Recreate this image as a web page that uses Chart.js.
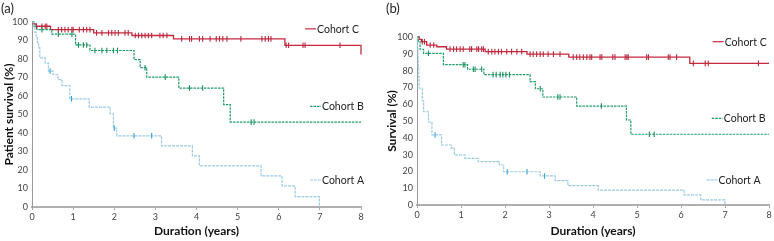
<!DOCTYPE html>
<html><head><meta charset="utf-8">
<script src="https://cdn.jsdelivr.net/npm/chart.js@4/dist/chart.umd.min.js"></script>
<style>
html,body{margin:0;padding:0;background:#fff;}
#wrap{position:relative;width:774px;height:241px;overflow:hidden;}
.box{position:absolute;top:0;height:241px;}
</style></head><body>
<div id="wrap">
<div class="box" style="left:0;width:385px"><canvas id="ca"></canvas></div>
<div class="box" style="left:385px;width:389px"><canvas id="cb"></canvas></div>
</div>
<script>
// ---------- Panel (a): Patient survival ----------
const xTicks = [0,1,2,3,4,5,6,7,8];
const yTicks = [0,10,20,30,40,50,60,70,80,90,100];

const aTimeA = [0,0.04,0.07,0.1,0.13,0.16,0.19,0.32,0.4,0.51,0.63,0.73,0.92,1.39,1.9,1.98,2.06,3.15,3.9,4.07,5.57,6.08,6.4,6.99];
const aSurvA = [100,97.2,94.4,91.7,88.9,86.1,80.6,77.8,73.5,71.5,68.8,65.6,58.5,54,50.4,42.6,38.5,33,27.6,22.2,16.8,11.4,5.6,0];
const aCensA = [0.44,0.96,2.0,2.48,2.91];

const aTimeB = [0,0.05,0.12,0.48,1.06,1.41,2.48,2.63,2.79,3.57,4.66,4.82,8];
const aSurvB = [100,97.5,95.9,93.4,87.6,84.6,79.7,75.3,70.2,64.3,55.3,45.9,45.9];
const aCensB = [0.24,0.64,0.97,1.13,1.25,1.33,1.53,1.70,1.82,1.98,2.08,2.75,3.24,3.83,4.15,5.33,5.40];

const aTimeC = [0,0.03,0.1,0.45,1.5,2.43,3.44,6.15,8];
const aSurvC = [100,99,97.7,95.9,94.1,92.7,90.9,87.4,82.4];
const aCensC = [0.11,0.24,0.32,0.36,0.64,0.72,0.8,0.88,0.97,1.0,1.15,1.25,1.33,1.41,
  1.57,1.70,1.86,1.94,2.02,2.10,2.26,2.34,2.51,2.59,2.67,2.75,2.83,2.91,3.11,3.19,3.28,
  3.64,3.83,3.88,4.07,4.15,4.33,4.48,4.56,4.64,4.74,5.08,5.59,5.67,5.75,5.81,
  6.18,6.24,6.59,6.64,7.49];

// ---------- Panel (b): Survival ----------
const bTimeA = [0,0.01,0.02,0.03,0.04,0.05,0.12,0.15,0.26,0.34,0.56,0.78,0.85,1.09,1.39,1.87,1.97,2.8,3.14,3.43,4.12,6.07,6.45,7.0];
const bSurvA = [100,94,88,82,76,69.5,62,55.5,49.4,41.7,35.7,33.7,29.8,27.8,25.8,23.8,19.8,17.3,14.5,11.5,8.9,6.0,3.0,0];
const bCensA = [0.41,2.05,2.5,2.9];

const bTimeB = [0,0.03,0.07,0.15,0.6,1.15,1.52,2.57,2.69,2.86,3.63,4.76,4.86,8];
const bSurvB = [100,97.3,92.7,90.3,83.5,80.8,77.6,73.4,69.2,64.3,58.9,50.6,42.1,42.1];
const bCensB = [0.26,1.05,1.09,1.28,1.32,1.47,1.73,1.8,1.89,1.95,2.02,2.1,2.8,3.2,3.25,4.19,5.28,5.39];

const bTimeC = [0,0.05,0.1,0.22,0.45,0.67,1.55,2.5,3.45,6.2,8];
const bSurvC = [100,98.6,97.2,95.2,94.2,92.8,91.3,89.8,88.0,84.3,84.3];
const bCensC = [0.12,0.17,0.3,0.38,0.75,0.83,0.9,0.98,1.05,1.2,1.24,1.36,1.4,1.47,1.51,
  1.62,1.7,1.77,1.85,1.92,2.04,2.15,2.27,2.38,2.57,2.64,2.72,2.8,2.87,2.98,3.1,3.25,
  3.55,3.63,3.7,3.78,3.86,3.93,3.97,4.16,4.2,4.45,4.5,4.73,4.77,4.8,5.22,5.26,5.71,5.75,5.9,
  6.28,6.55,6.62,7.76];

const seriesNames = ['Cohort A','Cohort B','Cohort C'];

// ---------- styling ----------
const RED = '#c42a3c', RED_T = '#b8283f';
const GREEN = '#1f9d68', GREEN_T = '#1b8f5e';
const BLUE = '#9ccbe4', BLUE_T = '#2ea3d6';
const FONT = 'Lato, "Noto Sans", sans-serif';

function pts(ts, vs){ return ts.map((t,i)=>({x:t,y:vs[i]})); }
function stepAt(ts, vs, t){ let v = vs[0]; for (let i=0;i<ts.length;i++){ if (ts[i] <= t) v = vs[i]; } return v; }
function cens(ts, vs, cs){ return cs.map(c=>({x:c,y:stepAt(ts,vs,c)})); }

function lineDs(label, ts, vs, color, dash, width){
  return {type:'line', label, data:pts(ts,vs), stepped:'before', borderColor:color, borderWidth:width,
    borderDash:dash, pointRadius:0, fill:false, clip:4, order:2};
}
function censDs(label, ts, vs, cs, color){
  return {type:'scatter', label:label+' censored', data:cens(ts,vs,cs), pointStyle:'line', rotation:90,
    pointRadius:2.8, pointHoverRadius:2.8, borderColor:color, pointBorderColor:color, pointBorderWidth:1.1,
    showLine:false, clip:6, order:1};
}

const labelPlugin = {
  id:'labels',
  afterDatasetsDraw(chart, args, opts){
    const ctx = chart.ctx, xs = chart.scales.x, ys = chart.scales.y;
    ctx.save();
    (opts.items||[]).forEach(it=>{
      const px = xs.getPixelForValue(it.t), py = ys.getPixelForValue(it.v);
      ctx.strokeStyle = it.color; ctx.lineWidth = 1.2; ctx.setLineDash(it.dash||[]);
      ctx.beginPath(); ctx.moveTo(px, py); ctx.lineTo(px+11, py); ctx.stroke();
      ctx.setLineDash([]);
      ctx.fillStyle = '#222'; ctx.font = '10.5px ' + FONT; ctx.textBaseline = 'middle'; ctx.textAlign='left';
      ctx.fillText(it.text, px+12, py+0.5);
    });
    if (opts.panel){
      ctx.fillStyle = '#222'; ctx.font = '13px ' + FONT; ctx.textBaseline='middle'; ctx.textAlign='left';
      ctx.fillText(opts.panel, 1, 8.5);
    }
    ctx.restore();
  }
};

function makeChart(id, d, yTitle, yTitlePad, pad, xH, items, panel){
  return new Chart(document.getElementById(id), {
    data:{datasets:[
      lineDs(seriesNames[0], d.tA, d.sA, BLUE, [3,1], 1.2),
      lineDs(seriesNames[1], d.tB, d.sB, GREEN, [2.5,1], 1.2),
      lineDs(seriesNames[2], d.tC, d.sC, RED, [], 1.3),
      censDs(seriesNames[0], d.tA, d.sA, d.cA, BLUE_T),
      censDs(seriesNames[1], d.tB, d.sB, d.cB, GREEN_T),
      censDs(seriesNames[2], d.tC, d.sC, d.cC, RED_T)
    ]},
    options:{
      responsive:true, maintainAspectRatio:false, animation:false,
      layout:{padding:pad},
      plugins:{legend:{display:false}, tooltip:{enabled:false}, labels:{items, panel}},
      events:[],
      scales:{
        x:{type:'linear', min:0, max:8, afterBuildTicks:s=>{s.ticks = xTicks.map(v=>({value:v}));},
          ticks:{font:{family:FONT,size:9}, color:'#444', padding:2, maxRotation:0},
          grid:{drawOnChartArea:false, drawTicks:true, tickLength:3, color:'#aaa', lineWidth:1},
          border:{display:true, color:'#b0b0b0', width:2},
          title:{display:true, text:'Duration (years)', font:{family:FONT,size:12,weight:'bold'}, color:'#111', padding:{top:0,bottom:3}},
          afterFit:s=>{s.height = xH;}
        },
        y:{type:'linear', min:0, max:100, afterBuildTicks:s=>{s.ticks = yTicks.map(v=>({value:v}));},
          ticks:{font:{family:FONT,size:9}, color:'#444', padding:4},
          grid:{drawOnChartArea:false, drawTicks:false},
          border:{display:true, color:'#9a9a9a', width:1},
          title:{display:true, text:yTitle, font:{family:FONT,size:12,weight:'bold'}, color:'#111', padding:{top:yTitlePad,bottom:0}},
          afterFit:s=>{s.width = 32;}
        }
      }
    },
    plugins:[labelPlugin]
  });
}

makeChart('ca', {tA:aTimeA,sA:aSurvA,cA:aCensA,tB:aTimeB,sB:aSurvB,cB:aCensB,tC:aTimeC,sC:aSurvC,cC:aCensC},
  'Patient survival (%)', 2, {top:22, right:24, left:0, bottom:0}, 34,
  [{text:'Cohort C', t:6.64, v:96.3, color:RED},
   {text:'Cohort B', t:6.76, v:54.4, color:GREEN, dash:[2.5,1]},
   {text:'Cohort A', t:6.76, v:14.6, color:BLUE, dash:[3,1]}], '(a)');

makeChart('cb', {tA:bTimeA,sA:bSurvA,cA:bCensA,tB:bTimeB,sB:bSurvB,cB:bCensB,tC:bTimeC,sC:bSurvC,cC:bCensC},
  'Survival (%)', 0, {top:37, right:5, left:0, bottom:0}, 36,
  [{text:'Cohort C', t:6.72, v:97.2, color:RED},
   {text:'Cohort B', t:6.70, v:51.6, color:GREEN, dash:[2.5,1]},
   {text:'Cohort A', t:6.58, v:14.9, color:BLUE, dash:[3,1]}], '(b)');
</script>
</body></html>
